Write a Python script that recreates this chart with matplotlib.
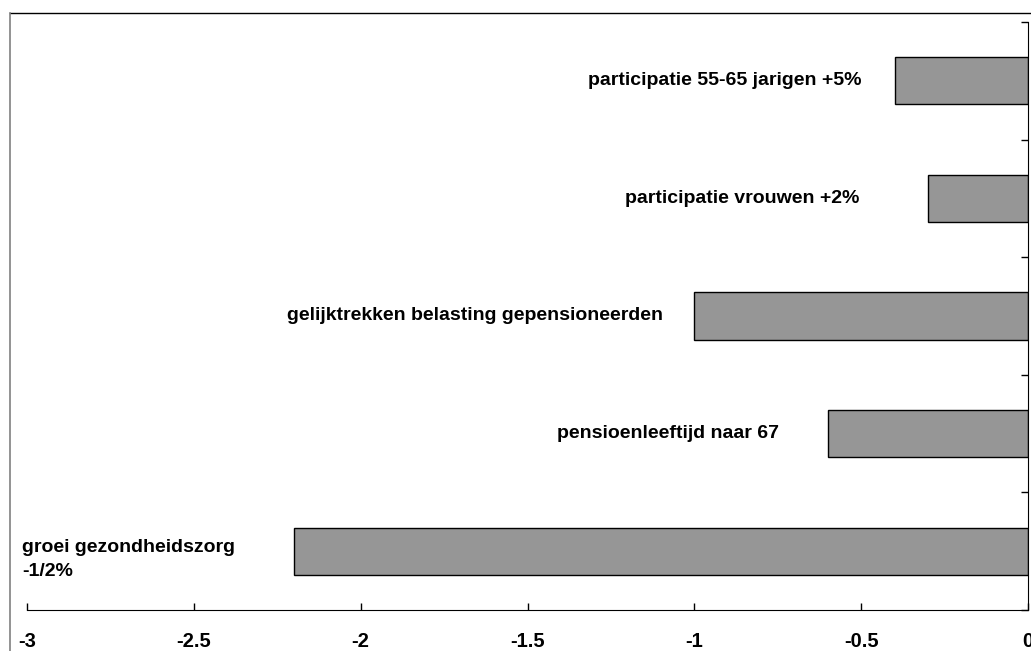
import matplotlib
matplotlib.use("Agg")
import matplotlib.pyplot as plt
from matplotlib.lines import Line2D

# effecten (bottom to top)
labels = ["groei gezondheidszorg\n-1/2%",
          "pensioenleeftijd naar 67",
          "gelijktrekken belasting gepensioneerden",
          "participatie vrouwen +2%",
          "participatie 55-65 jarigen +5%"]
values = [-2.2, -0.6, -1.0, -0.3, -0.4]
xticks = [-3, -2.5, -2, -1.5, -1, -0.5, 0]

# where the label text ends (right aligned), in axis units
label_x = [None, -0.746, -1.094, -0.504, -0.50]

plt.rcParams['font.family'] = ['Liberation Sans', 'DejaVu Sans']

W, H = 1031, 651
fig = plt.figure(figsize=(W / 100, H / 100), dpi=100)
ax = fig.add_axes([27 / W, (H - 610) / H, (1028 - 27) / W, (610 - 22) / H])

pos = range(len(values))
ax.barh(pos, values, height=0.4, color="#969696", edgecolor="black", linewidth=1)

ax.set_xlim(-3, 0)
ax.set_ylim(-0.5, len(values) - 0.5)

for i, lab in enumerate(labels):
    if label_x[i] is None:
        ax.text(-3.015, i - 0.07, lab, ha="left", va="center", fontsize=14,
                fontweight="bold", linespacing=1.55)
    else:
        ax.text(label_x[i], i, lab, ha="right", va="center", fontsize=14,
                fontweight="bold")

ax.set_xticks(xticks)
ax.set_xticklabels([f"{t:g}" for t in xticks], fontsize=14.5, fontweight="bold")
ax.tick_params(axis="x", direction="in", length=5, width=1, pad=16)

ax.yaxis.tick_right()
ax.set_yticks([i - 0.5 for i in range(len(values) + 1)])
ax.set_yticklabels([])
ax.tick_params(axis="y", direction="in", length=5, width=1)

ax.spines["top"].set_visible(False)
ax.spines["left"].set_visible(False)

# chart border
fig.add_artist(Line2D([10 / W, 1], [1 - 13 / H, 1 - 13 / H], color="black", lw=1))
fig.add_artist(Line2D([10 / W, 10 / W], [0, 1 - 13 / H], color="#808080", lw=1.2))

fig.savefig("out.png", dpi=100)
